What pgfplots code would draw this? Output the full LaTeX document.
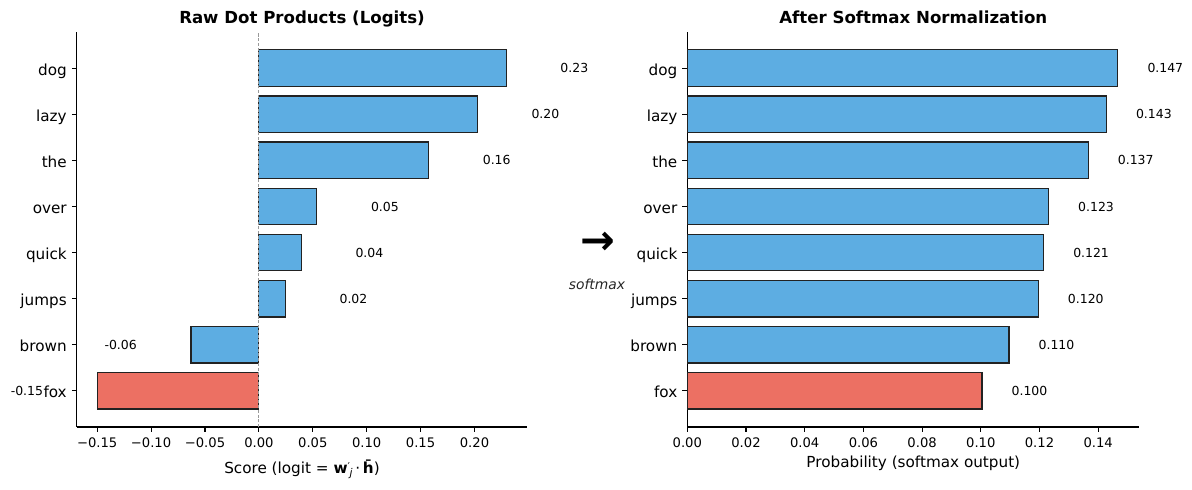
\documentclass[border=0pt]{standalone}
\usepackage{pgfplots}
\pgfplotsset{compat=1.18}
\usepackage{pgfplotstable}
\usepackage{fontspec}
\setmainfont{DejaVu Sans}
\definecolor{barblue}{HTML}{5DADE2}
\definecolor{barred}{HTML}{EC7063}
\definecolor{edge}{HTML}{222222}

\pgfplotstableread{
idx v lab
0 -0.150 -0.15
1 -0.063 -0.06
2 0.0246 0.02
3 0.0394 0.04
4 0.0538 0.05
5 0.1575 0.16
6 0.2027 0.20
7 0.2295 0.23
}\logits

\pgfplotstableread{
idx p lab
0 0.1004 0.100
1 0.1096 0.110
2 0.1196 0.120
3 0.1214 0.121
4 0.1231 0.123
5 0.1366 0.137
6 0.1428 0.143
7 0.1467 0.147
}\probs

\pgfplotsset{
 common/.style={
  scale only axis, height=3.95in, ymin=-0.79, ymax=7.79,
  clip=false,
  axis x line*=bottom, axis y line*=left,
  axis line style={black, line width=0.8pt},
  tick align=outside, major tick length=3.5pt,
  every tick/.style={black, line width=0.8pt},
  ytick={0,1,2,3,4,5,6,7},
  yticklabels={fox,brown,jumps,quick,over,the,lazy,dog},
  yticklabel style={font=\fontsize{11}{13}\selectfont, anchor=base east, inner sep=0pt, xshift=-3.5pt, yshift=-5.2pt},
  xticklabel style={font=\fontsize{9.5}{11}\selectfont, anchor=base, inner sep=0pt, yshift=-11.6pt},
  title style={font=\bfseries\fontsize{12}{14}\selectfont, at={(0.5,1)}, anchor=base, inner sep=0pt},
  xlabel style={font=\fontsize{11}{13}\selectfont, at={(axis description cs:0.5,0)}, anchor=base, inner sep=0pt},
  anchor=south west,
 },
 bars/.style={xbar, bar width=0.8, bar shift=0pt, draw=edge, line width=0.8pt},
 vlab/.style={only marks, mark=none, nodes near coords, point meta=explicit symbolic,
   nodes near coords style={inner sep=0pt, font=\fontsize{9}{11}\selectfont, text=black}},
}

\begin{document}
\begin{tikzpicture}
\useasboundingbox (0,0) rectangle (11.92in,4.9in);

\begin{axis}[common, at={(0.767in,0.63in)}, width=4.506in,
  xmin=-0.169, xmax=0.249,
  xtick={-0.15,-0.10,-0.05,0,0.05,0.10,0.15,0.20},
  xticklabels={−0.15,−0.10,−0.05,0.00,0.05,0.10,0.15,0.20},
  title={Raw Dot Products (Logits)},
  xlabel={Score (logit = \textbf{w}\raisebox{0.35ex}{\fontsize{7.7}{8}\selectfont ′}\kern-0.02em\raisebox{-0.45ex}{\fontsize{7.7}{8}\selectfont\itshape j}\kern0.18em·\kern0.18em\ooalign{\textbf{h}\cr\hidewidth\raisebox{0.12em}{\textbf{¯}}\hidewidth\cr})},
  xlabel style={yshift=-0.46in},
]
\addplot[bars, fill=barblue, skip coords between index={0}{1}] table[x=v, y=idx]{\logits};
\addplot[bars, fill=barred, skip coords between index={1}{8}] table[x=v, y=idx]{\logits};
\addplot[black!40, line width=0.6pt, dash pattern=on 2.2pt off 1.2pt] coordinates {(0,-0.79) (0,7.79)};
\addplot[vlab, nodes near coords style={anchor=west}, skip coords between index={0}{2}] table[x expr=\thisrow{v}+0.05, y=idx, meta=lab]{\logits};
\addplot[vlab, nodes near coords style={anchor=east}, skip coords between index={2}{8}] table[x expr=\thisrow{v}-0.05, y=idx, meta=lab]{\logits};
\end{axis}

\begin{axis}[common, at={(6.873in,0.63in)}, width=4.52in,
  xmin=0, xmax=0.154,
  xtick={0,0.02,0.04,0.06,0.08,0.10,0.12,0.14},
  xticklabels={0.00,0.02,0.04,0.06,0.08,0.10,0.12,0.14},
  title={After Softmax Normalization},
  xlabel={Probability (softmax output)},
  xlabel style={yshift=-0.40in},
]
\addplot[bars, fill=barblue, skip coords between index={0}{1}] table[x=p, y=idx]{\probs};
\addplot[bars, fill=barred, skip coords between index={1}{8}] table[x=p, y=idx]{\probs};
\addplot[vlab, nodes near coords style={anchor=west}] table[x expr=\thisrow{p}+0.01, y=idx, meta=lab]{\probs};
\end{axis}

\node[font=\bfseries\fontsize{30}{30}\selectfont] at (5.98in,2.47in) {→};
\node[font=\itshape\fontsize{10}{12}\selectfont, text=black!85] at (5.97in,2.06in) {softmax};
\end{tikzpicture}
\end{document}
